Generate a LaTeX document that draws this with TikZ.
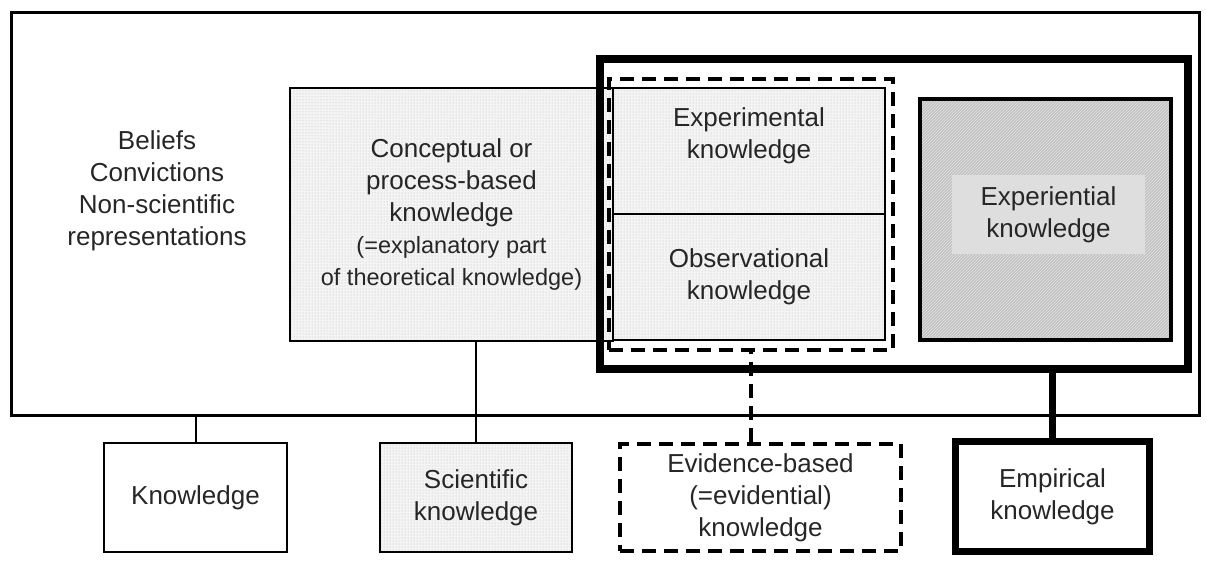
\documentclass[tikz,border=0pt]{standalone}
\usepackage{fontspec}
\setmainfont{Liberation Sans}
\usetikzlibrary{patterns}
\tikzset{
	box/.style={draw, line width=2pt, inner sep=0pt, align=center, text=black!85},
	dotbox/.style={box, preaction={fill=gray!9}, pattern=dots, pattern color=gray!55},
	hatchbox/.style={box, line width=4.5pt, preaction={fill=gray!48}, pattern=north east lines, pattern color=gray!22},
	dashbox/.style={box, line width=4.5pt, dash pattern=on 14pt off 8pt},
	txt/.style={inner sep=0pt, align=center, text=black!85},
}
\newcommand{\bigtxt}{\fontsize{26}{32}\selectfont}
\newcommand{\smalltxt}{\fontsize{23.5}{31}\selectfont}

\begin{document}
\begin{tikzpicture}[x=1pt, y=-1pt, font=\bigtxt]
			%%%%% START %%%%%
			\useasboundingbox (0,0) rectangle (1206,562);
			
			\node[box, line width=3pt, minimum width=1188, minimum height=403] (frame) at (605.5,214) {};
			\node[txt] (beliefs) at (157,191) {Beliefs\\Convictions\\Non-scientific\\representations};
			
			\node[dotbox, minimum width=323, minimum height=253] (concept) at (451.5,214.5) {Conceptual or\\process-based\\knowledge\\{\smalltxt(=explanatory part}\\{\smalltxt of theoretical knowledge)}};
			
			\node[dotbox, minimum width=272, minimum height=126] (experim) at (749,151) {};
			\node[txt] (experim text) at (749,136) {Experimental\\knowledge};
			\node[dotbox, minimum width=272, minimum height=126] (observ) at (749,277) {Observational\\knowledge};
			
			\node[hatchbox, minimum width=251, minimum height=241] (experient) at (1045.5,219.5) {};
			\node[txt, fill=gray!26, minimum width=193, minimum height=79] (experient text) at (1048.5,214.5) {Experiential\\knowledge};
			
			\node[box, line width=8pt, minimum width=588, minimum height=310] (empframe) at (894,214) {};
			\node[dashbox, minimum width=284, minimum height=271] (evframe) at (751,214.5) {};
			
			\node[box, minimum width=183, minimum height=109] (knowl) at (195.5,497.5) {Knowledge};
			\node[dotbox, minimum width=192, minimum height=109] (sci) at (476,497.5) {Scientific\\knowledge};
			\node[dashbox, minimum width=281, minimum height=107] (evid) at (760.5,497.5) {Evidence-based\\(=evidential)\\knowledge};
			\node[box, line width=7pt, minimum width=194, minimum height=110] (empir) at (1052.5,496.5) {Empirical\\knowledge};
			
			\draw[line width=2pt] (knowl.north) -- (knowl.north |- frame.south);
			\draw[line width=2pt] (sci.north) -- (sci.north |- concept.south);
			\draw[line width=4.5pt, dash pattern=on 14pt off 8pt] (evid.north -| evframe.south) -- (evframe.south);
			\draw[line width=7pt] (empir.north) -- (empir.north |- empframe.south);
			%%%%% END %%%%%
\end{tikzpicture}
\end{document}
